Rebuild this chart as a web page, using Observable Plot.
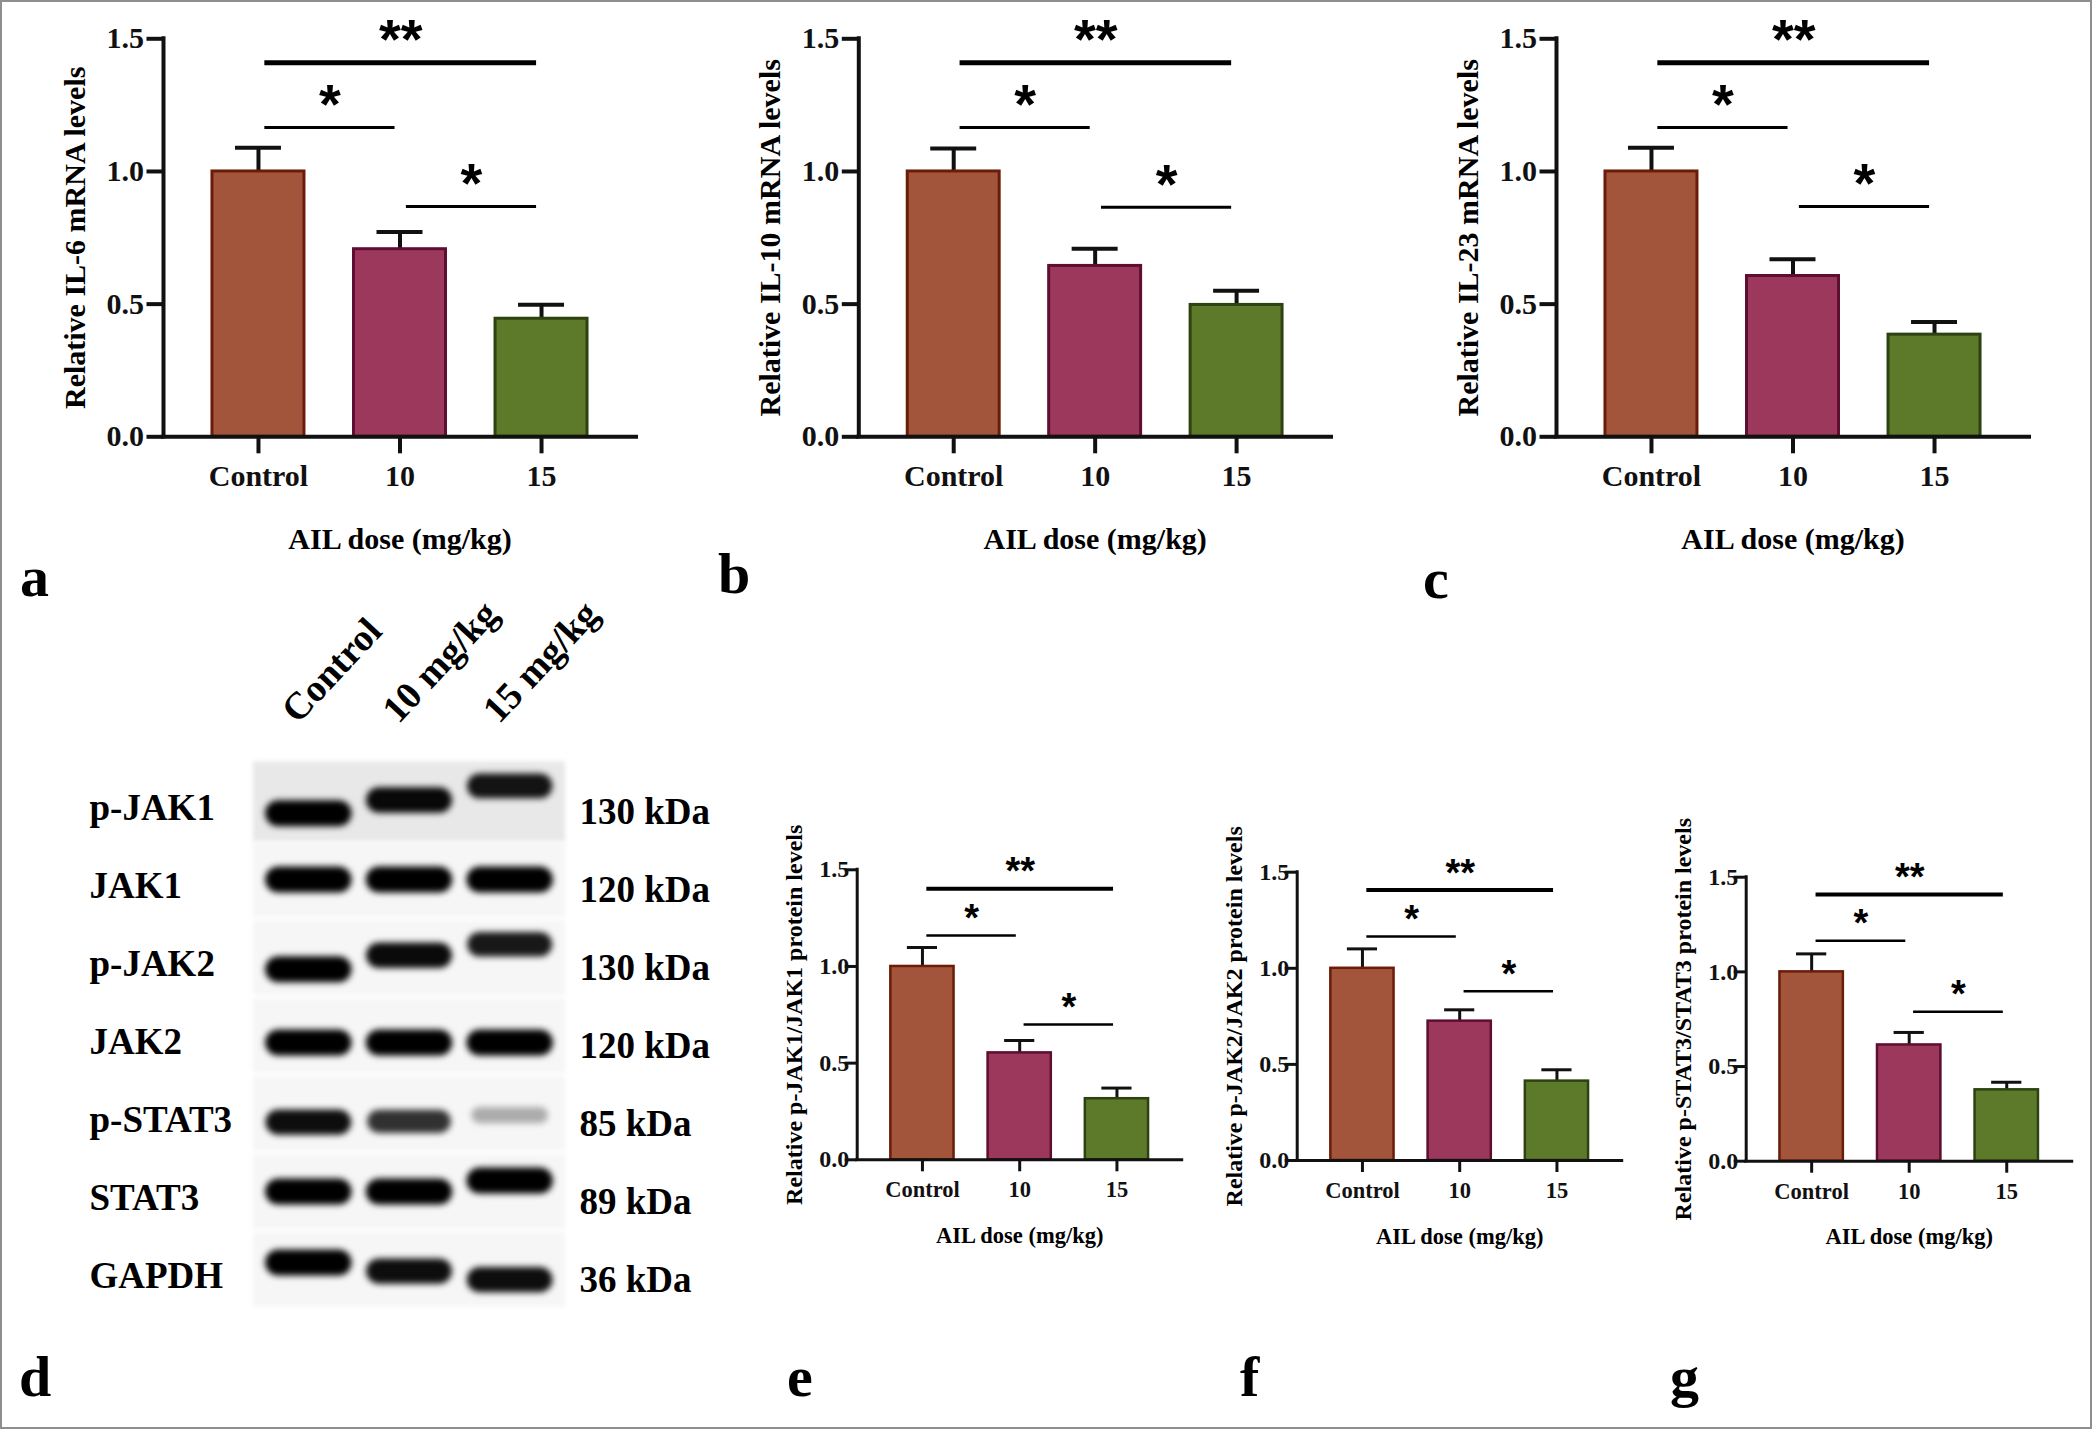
<!DOCTYPE html>
<html><head><meta charset="utf-8">
<script src="https://cdn.jsdelivr.net/npm/d3@7"></script>
<script src="https://cdn.jsdelivr.net/npm/@observablehq/plot@0.6"></script>
<style>
html,body{margin:0;padding:0;background:#fff;}
#fig{position:relative;width:2092px;height:1429px;background:#fff;overflow:hidden;font-family:"Liberation Serif","Times New Roman",serif;font-weight:bold;color:#000;}
#frame{position:absolute;left:0;top:0;width:2092px;height:1429px;box-sizing:border-box;border:2px solid #8e8e8e;pointer-events:none;}
#fig svg{position:absolute;overflow:visible;background:none !important;}
.letter{position:absolute;font-size:58px;line-height:1;font-weight:bold;font-family:"Liberation Serif",serif;}
</style></head><body><div id="fig"><div id="frame"></div></div>
<script>
// ---------- data ----------
const groups = ["Control", "10", "15"];
const il6Mean = [1.00, 0.707, 0.445];
const il6Sem = [0.089, 0.065, 0.053];
const il10Mean = [1.00, 0.644, 0.497];
const il10Sem = [0.087, 0.065, 0.053];
const il23Mean = [1.00, 0.606, 0.385];
const il23Sem = [0.089, 0.063, 0.048];
const pjak1Mean = [1.00, 0.553, 0.316];
const pjak1Sem = [0.098, 0.064, 0.055];
const pjak2Mean = [1.00, 0.725, 0.413];
const pjak2Sem = [0.101, 0.059, 0.059];
const pstat3Mean = [1.00, 0.614, 0.377];
const pstat3Sem = [0.095, 0.066, 0.040];
// significance comparisons (from group index, to group index, label)
const compFrom = [0, 0, 1];
const compTo = [2, 1, 2];
const compLabel = ["**", "*", "*"];
// bracket heights (y units) per panel
const il6Sig = [1.41, 1.166, 0.868];
const il10Sig = [1.41, 1.166, 0.865];
const il23Sig = [1.41, 1.166, 0.868];
const pjak1Sig = [1.402, 1.160, 0.700];
const pjak2Sig = [1.408, 1.165, 0.881];
const pstat3Sig = [1.408, 1.165, 0.789];
const yTicks = [0, 0.5, 1.0, 1.5];
const xTitle = "AIL dose (mg/kg)";

// western blot
const lanes = ["Control", "10 mg/kg", "15 mg/kg"];
const proteins = ["p-JAK1", "JAK1", "p-JAK2", "JAK2", "p-STAT3", "STAT3", "GAPDH"];
const weights = ["130 kDa", "120 kDa", "130 kDa", "120 kDa", "85 kDa", "89 kDa", "36 kDa"];
const bandIntensity = [
  [1.00, 0.97, 0.92],
  [1.00, 1.00, 1.00],
  [1.00, 0.96, 0.90],
  [1.00, 1.00, 1.00],
  [0.95, 0.80, 0.30],
  [1.00, 1.00, 1.00],
  [1.00, 0.95, 0.95]
];
const bandDrift = [
  [0.15, -0.02, -0.20],
  [0.00, 0.00, 0.00],
  [0.15, -0.03, -0.17],
  [0.09, 0.09, 0.09],
  [0.11, 0.10, 0.02],
  [0.00, 0.00, -0.14],
  [-0.09, 0.02, 0.13]
];

// ---------- styles ----------
const barFill = ["#A3553C", "#9D385D", "#5D7A2A"];
const barStroke = ["#6B1C08", "#5E0E30", "#2C4210"];
const fig = document.getElementById("fig");
const xDomain = [-0.671, 2.671];
const halfBar = 0.325;

const TOP = {tick: 30, text: 30, title: 30, axisW: 4, tickSizeY: 16.5, tickPadY: 3, tickSizeX: 17, tickPadX: 11,
  barW: 3, errW: 4, cap: 0.1625, sig2: 5, sig1: 3, star: 56, starDy: -22.5, titleDx: -88, xtDy: 103};
const BOT = {tick: 24, text: 22.5, title: 24, axisW: 3, tickSizeY: 12, tickPadY: -4, tickSizeX: 12, tickPadX: 9.5,
  barW: 2.5, errW: 3, cap: 0.155, sig2: 4, sig1: 2.5, star: 38, starDy: -16.5, titleDx: -63, xtDy: 76};

function place(svg, left, top) {
  svg.style.left = left + "px";
  svg.style.top = top + "px";
  fig.appendChild(svg);
}

function barPanel({mean, sem, sig, yTitle, left, top, width, height, mt, mb, ml, mr, s}) {
  const bars = groups.map((g, i) => ({i, g, mean: mean[i], sem: sem[i]}));
  const sigs = compLabel.map((label, k) => ({from: compFrom[k], to: compTo[k], label, y: sig[k]}));
  const svg = Plot.plot({
    width, height, marginTop: mt, marginBottom: mb, marginLeft: ml, marginRight: mr,
    x: {domain: xDomain},
    y: {domain: [0, 1.5]},
    color: {type: "identity"},
    style: {fontFamily: "Liberation Serif, Times New Roman, serif", fontWeight: "bold", fontSize: s.tick + "px",
      color: "#111", background: "none", overflow: "visible"},
    marks: [
      // error bars (upper only)
      Plot.ruleX(bars, {x: "i", y1: "mean", y2: d => d.mean + d.sem, stroke: "#111", strokeWidth: s.errW}),
      Plot.ruleY(bars, {y: d => d.mean + d.sem, x1: d => d.i - s.cap, x2: d => d.i + s.cap, stroke: "#111", strokeWidth: s.errW}),
      // bars
      Plot.rectY(bars, {x1: d => d.i - halfBar, x2: d => d.i + halfBar, y1: () => 0, y2: "mean",
        fill: d => barFill[d.i], stroke: d => barStroke[d.i], strokeWidth: s.barW}),
      // axis lines
      Plot.ruleY([0], {stroke: "#111", strokeWidth: s.axisW, strokeLinecap: "square"}),
      Plot.ruleX([xDomain[0]], {y1: () => 0, y2: () => 1.5, stroke: "#111", strokeWidth: s.axisW, strokeLinecap: "square"}),
      Plot.axisY({ticks: yTicks, tickFormat: d3.format(".1f"), tickSize: s.tickSizeY, tickPadding: s.tickPadY,
        strokeWidth: s.axisW, fontSize: s.tick, label: null, fill: "#111"}),
      Plot.axisX({ticks: [0, 1, 2], tickFormat: i => groups[i], tickSize: s.tickSizeX, tickPadding: s.tickPadX,
        strokeWidth: s.axisW, fontSize: s.text, label: null, fill: "#111"}),
      // significance brackets
      Plot.ruleY(sigs, {y: "y", x1: d => d.from + 0.045, x2: d => d.to - 0.035, stroke: "#000",
        strokeWidth: d => d.label === "**" ? s.sig2 : s.sig1}),
      Plot.text(sigs, {x: d => (d.from + 0.045 + d.to - 0.035) / 2, y: "y", text: "label", dy: s.starDy,
        fontFamily: "Liberation Sans, Arial, sans-serif", fontWeight: "bold", fontSize: s.star, fill: "#000"}),
      // titles
      Plot.text([yTitle], {text: d => d, frameAnchor: "left", rotate: -90, dx: s.titleDx, textAnchor: "middle",
        lineAnchor: "middle", fontSize: s.title, fill: "#000"}),
      Plot.text([xTitle], {text: d => d, frameAnchor: "bottom", dy: s.xtDy, textAnchor: "middle",
        lineAnchor: "middle", fontSize: s.text, fill: "#000"})
    ]
  });
  place(svg, left, top);
}

// top row
barPanel({mean: il6Mean, sem: il6Sem, sig: il6Sig, yTitle: "Relative IL-6 mRNA levels",
  left: 0, top: 0, width: 700, height: 620, mt: 38.3, mb: 183.7, ml: 163, mr: 64, s: TOP});
barPanel({mean: il10Mean, sem: il10Sem, sig: il10Sig, yTitle: "Relative IL-10 mRNA levels",
  left: 700, top: 0, width: 700, height: 620, mt: 38.3, mb: 183.7, ml: 158.3, mr: 69, s: TOP});
barPanel({mean: il23Mean, sem: il23Sem, sig: il23Sig, yTitle: "Relative IL-23 mRNA levels",
  left: 1400, top: 0, width: 692, height: 620, mt: 38.3, mb: 183.7, ml: 156, mr: 63, s: TOP});
// bottom row
barPanel({mean: pjak1Mean, sem: pjak1Sem, sig: pjak1Sig, yTitle: "Relative p-JAK1/JAK1 protein levels",
  left: 740, top: 820, width: 470, height: 460, mt: 49.3, mb: 120.7, ml: 116.7, mr: 28.3, s: BOT});
barPanel({mean: pjak2Mean, sem: pjak2Sem, sig: pjak2Sig, yTitle: "Relative p-JAK2/JAK2 protein levels",
  left: 1180, top: 820, width: 470, height: 460, mt: 51.7, mb: 120, ml: 116.7, mr: 28.3, s: BOT});
barPanel({mean: pstat3Mean, sem: pstat3Sem, sig: pstat3Sig, yTitle: "Relative p-STAT3/STAT3 protein levels",
  left: 1630, top: 820, width: 460, height: 460, mt: 56.7, mb: 119.3, ml: 115.7, mr: 18.3, s: BOT});

// western blot panel
(function blot() {
  const bands = [];
  proteins.forEach((p, r) => lanes.forEach((l, c) => bands.push({row: r, c, intensity: bandIntensity[r][c], drift: bandDrift[r][c]})));
  const rows = proteins.map((p, i) => ({i, p, w: weights[i]}));
  const laneIdx = lanes.map((l, i) => ({i, l}));
  const svg = Plot.plot({
    width: 700, height: 750, marginLeft: 258, marginRight: 140, marginTop: 182, marginBottom: 22,
    x: {domain: [-0.5, lanes.length - 0.5], axis: null},
    y: {domain: [-0.5, proteins.length - 0.5], reverse: true, axis: null},
    style: {fontFamily: "Liberation Serif, Times New Roman, serif", fontWeight: "bold", fontSize: "37px",
      color: "#000", background: "none", overflow: "visible"},
    marks: [
      Plot.ruleY(rows.filter(d => d.i === 0), {y: "i", x1: () => -0.5, x2: () => lanes.length - 0.5, stroke: "#e8e8e8",
        strokeWidth: 80, insetLeft: -5, insetRight: -5}),
      Plot.ruleY(rows.filter(d => d.i > 0), {y: "i", x1: () => -0.5, x2: () => lanes.length - 0.5, stroke: "#f6f6f6",
        strokeWidth: 74, insetLeft: -5, insetRight: -5}),
      Plot.ruleY(bands, {y: d => d.row + d.drift, x1: d => d.c - 0.3, x2: d => d.c + 0.3, stroke: "#000",
        strokeOpacity: "intensity", strokeWidth: d => 12 + 14 * d.intensity, strokeLinecap: "round"}),
      Plot.text(rows, {y: "i", text: "p", frameAnchor: "left", dx: -169, dy: 7, textAnchor: "start",
        lineAnchor: "middle", fill: "#000"}),
      Plot.text(rows, {y: "i", text: "w", frameAnchor: "right", dx: 19, dy: 11, textAnchor: "start",
        lineAnchor: "middle", fill: "#000"}),
      Plot.text(laneIdx, {x: "i", text: "l", frameAnchor: "top", dx: -20, dy: -46, rotate: -47,
        textAnchor: "start", lineAnchor: "middle", fontSize: 38, fill: "#000"})
    ]
  });
  // soften the blot strips and bands (rule groups in mark order)
  const ruleGroups = svg.querySelectorAll('g[aria-label="rule"]');
  ruleGroups.forEach((g, k) => { g.style.filter = k < 2 ? "blur(2px)" : "blur(3.2px)"; });
  place(svg, 0, 580);
})();

// panel letters
const letters = [["a", 20, 548], ["b", 718, 545], ["c", 1423, 550], ["d", 19, 1348], ["e", 787, 1348], ["f", 1240, 1348], ["g", 1670, 1348]];
letters.forEach(([t, x, y]) => {
  const d = document.createElement("div");
  d.className = "letter"; d.textContent = t;
  d.style.left = x + "px"; d.style.top = y + "px";
  fig.appendChild(d);
});
</script></body></html>
